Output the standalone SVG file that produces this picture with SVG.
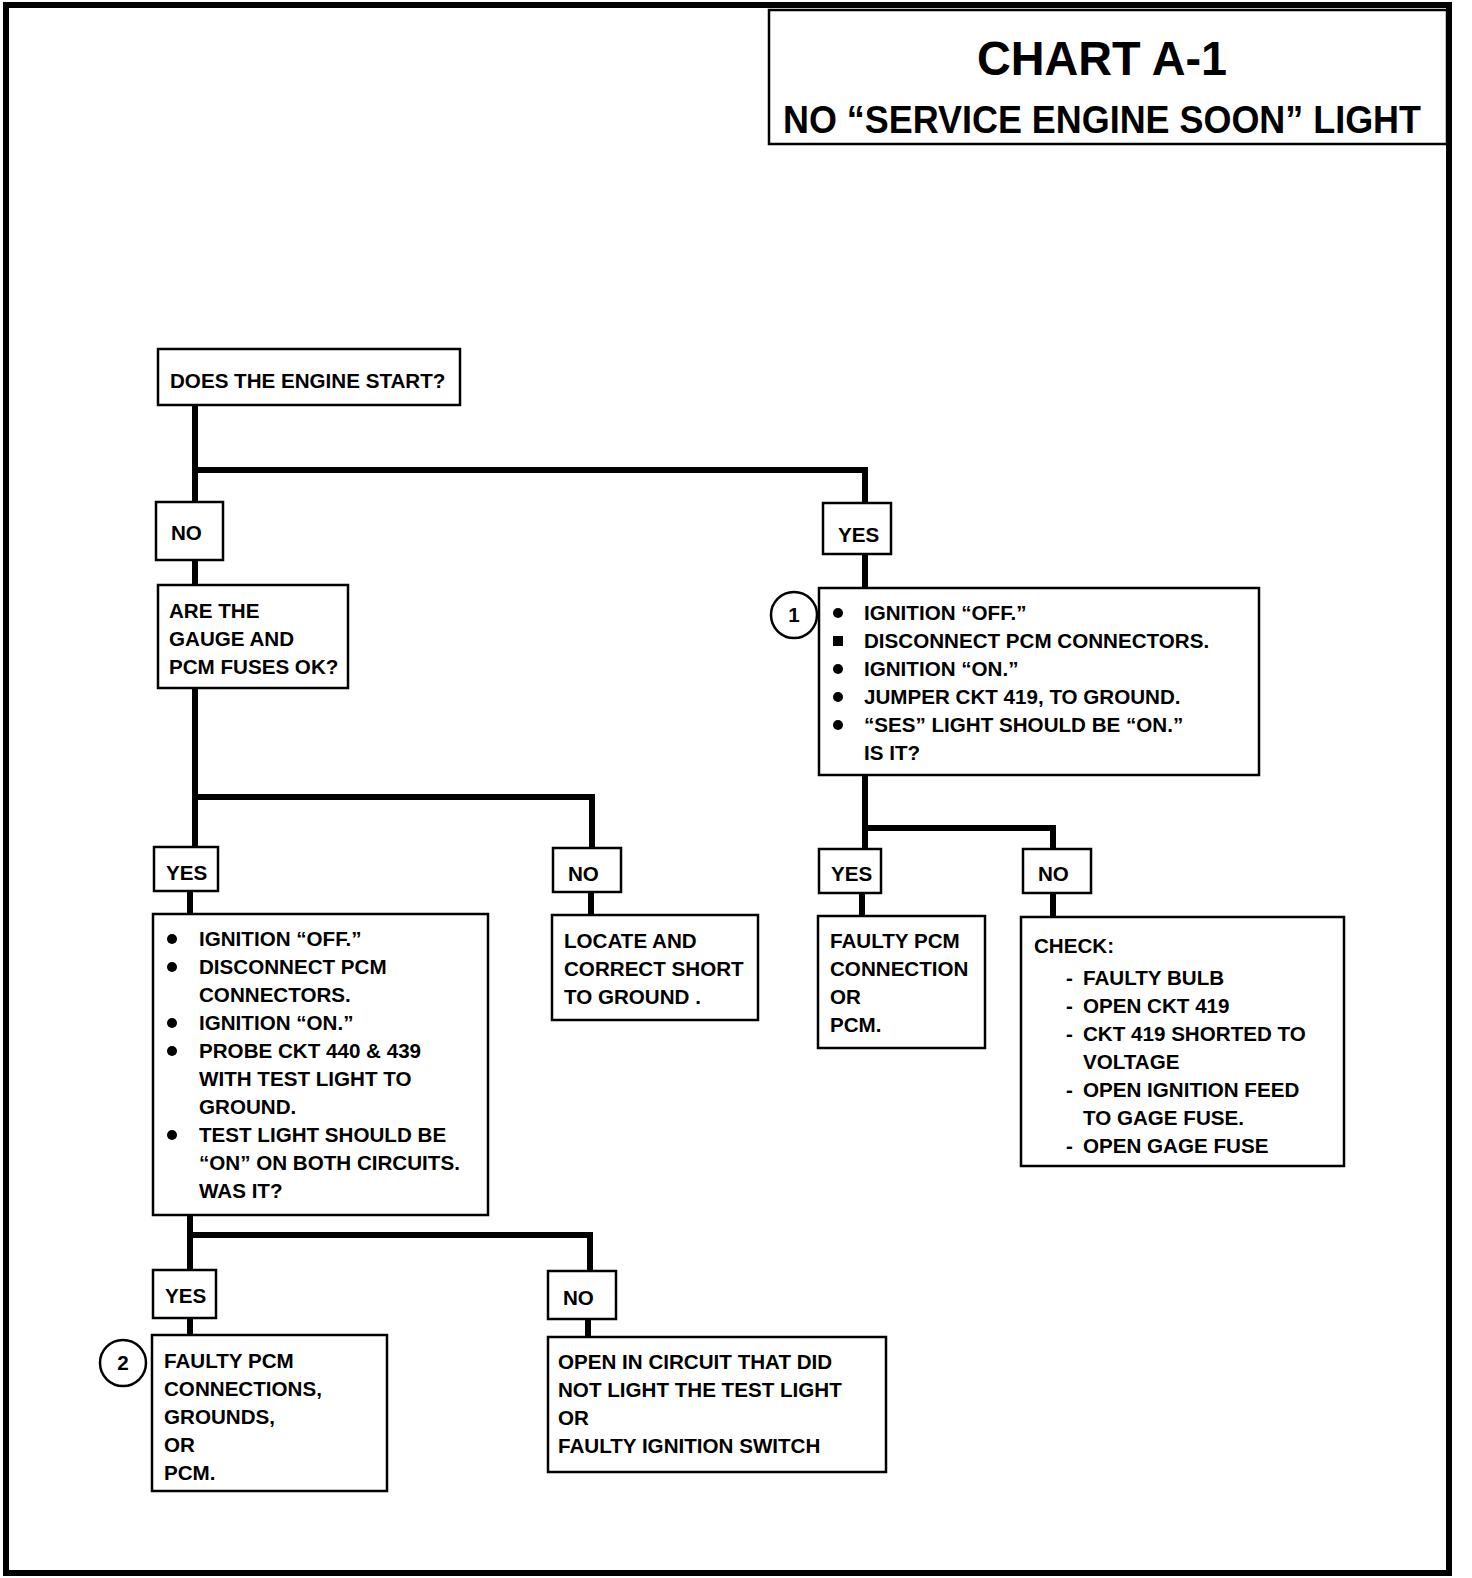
<svg xmlns="http://www.w3.org/2000/svg" width="1472" height="1578" viewBox="0 0 1472 1578">
<style>
.box{fill:#fff;stroke:#000;stroke-width:2.5}
.t{font-family:"Liberation Sans",Arial,sans-serif;font-weight:bold;font-size:20.6px;fill:#000}
.h1{font-family:"Liberation Sans",Arial,sans-serif;font-weight:bold;font-size:48px;fill:#000}
.h2{font-family:"Liberation Sans",Arial,sans-serif;font-weight:bold;font-size:38px;fill:#000}
.conn{fill:none;stroke:#000;stroke-width:6;stroke-linejoin:miter;stroke-linecap:butt}
.frame{fill:none;stroke:#000;stroke-width:6}
.bul{fill:#000}
.ring{fill:#fff;stroke:#000;stroke-width:2.5}
</style>
<rect width="1472" height="1578" fill="#fff"/>
<rect class="frame" x="6" y="5" width="1443" height="1568"/>
<g id="title">
<rect class="box" x="769" y="10" width="678" height="134"/>
<text class="h1" x="1102" y="75" text-anchor="middle" textLength="250" lengthAdjust="spacingAndGlyphs">CHART A-1</text>
<text class="h2" x="1102" y="133" text-anchor="middle" textLength="638" lengthAdjust="spacingAndGlyphs">NO “SERVICE ENGINE SOON” LIGHT</text>
</g>
<g id="connectors">
<path class="conn" d="M195 405 V502 M195 470 H865 V503"/>
<path class="conn" d="M195 560 V585"/>
<path class="conn" d="M195 688 V848 M195 797 H592 V848"/>
<path class="conn" d="M190 891 V914"/>
<path class="conn" d="M591 892 V915"/>
<path class="conn" d="M865 554 V588"/>
<path class="conn" d="M865 775 V849 M865 828 H1053 V849"/>
<path class="conn" d="M862 893 V916"/>
<path class="conn" d="M1053 893 V917"/>
<path class="conn" d="M190 1215 V1271 M190 1235 H590 V1271"/>
<path class="conn" d="M190 1318 V1335"/>
<path class="conn" d="M588 1319 V1337"/>
</g>
<g id="n_start">
<rect class="box" x="158" y="349" width="302" height="56"/>
<text class="t" x="170" y="388">DOES THE ENGINE START?</text>
</g>
<g id="n_no1">
<rect class="box" x="156" y="502" width="67" height="58"/>
<text class="t" x="171" y="540">NO</text>
</g>
<g id="n_fuses">
<rect class="box" x="158" y="585" width="190" height="103"/>
<text class="t" x="169" y="618">ARE THE</text>
<text class="t" x="169" y="646">GAUGE AND</text>
<text class="t" x="169" y="674">PCM FUSES OK?</text>
</g>
<g id="n_yes_fuses">
<rect class="box" x="154" y="847" width="64" height="44"/>
<text class="t" x="166" y="880">YES</text>
</g>
<g id="n_probe">
<rect class="box" x="153" y="914" width="335" height="301"/>
<circle class="bul" cx="172" cy="939" r="5"/>
<circle class="bul" cx="172" cy="967" r="5"/>
<circle class="bul" cx="172" cy="1023" r="5"/>
<circle class="bul" cx="172" cy="1051" r="5"/>
<circle class="bul" cx="172" cy="1135" r="5"/>
<text class="t" x="199" y="946">IGNITION “OFF.”</text>
<text class="t" x="199" y="974">DISCONNECT PCM</text>
<text class="t" x="199" y="1002">CONNECTORS.</text>
<text class="t" x="199" y="1030">IGNITION “ON.”</text>
<text class="t" x="199" y="1058">PROBE CKT 440 &amp; 439</text>
<text class="t" x="199" y="1086">WITH TEST LIGHT TO</text>
<text class="t" x="199" y="1114">GROUND.</text>
<text class="t" x="199" y="1142">TEST LIGHT  SHOULD BE</text>
<text class="t" x="199" y="1170">“ON” ON BOTH CIRCUITS.</text>
<text class="t" x="199" y="1198">WAS IT?</text>
</g>
<g id="n_no_fuses">
<rect class="box" x="553" y="848" width="68" height="44"/>
<text class="t" x="568" y="881">NO</text>
</g>
<g id="n_short">
<rect class="box" x="552" y="915" width="206" height="105"/>
<text class="t" x="564" y="948">LOCATE  AND</text>
<text class="t" x="564" y="976">CORRECT SHORT</text>
<text class="t" x="564" y="1004">TO GROUND .</text>
</g>
<g id="n_yes1">
<rect class="box" x="823" y="503" width="68" height="51"/>
<text class="t" x="838" y="542">YES</text>
</g>
<g id="n_jumper">
<rect class="box" x="819" y="588" width="440" height="187"/>
<circle class="bul" cx="838" cy="613" r="5"/>
<rect class="bul" x="833" y="636" width="10" height="10"/>
<circle class="bul" cx="838" cy="669" r="5"/>
<circle class="bul" cx="838" cy="697" r="5"/>
<circle class="bul" cx="838" cy="725" r="5"/>
<text class="t" x="864" y="620">IGNITION “OFF.”</text>
<text class="t" x="864" y="648">DISCONNECT PCM CONNECTORS.</text>
<text class="t" x="864" y="676">IGNITION “ON.”</text>
<text class="t" x="864" y="704">JUMPER CKT 419,  TO GROUND.</text>
<text class="t" x="864" y="732">“SES” LIGHT  SHOULD BE “ON.”</text>
<text class="t" x="864" y="760">IS IT?</text>
</g>
<g id="c1">
<circle class="ring" cx="794" cy="615" r="23"/>
<text class="t" x="794" y="622" text-anchor="middle">1</text>
</g>
<g id="n_yes_ses">
<rect class="box" x="819" y="849" width="62" height="44"/>
<text class="t" x="831" y="881">YES</text>
</g>
<g id="n_faulty1">
<rect class="box" x="818" y="916" width="167" height="132"/>
<text class="t" x="830" y="948">FAULTY PCM</text>
<text class="t" x="830" y="976">CONNECTION</text>
<text class="t" x="830" y="1004">OR</text>
<text class="t" x="830" y="1032">PCM.</text>
</g>
<g id="n_no_ses">
<rect class="box" x="1023" y="849" width="68" height="44"/>
<text class="t" x="1038" y="881">NO</text>
</g>
<g id="n_check">
<rect class="box" x="1021" y="917" width="323" height="249"/>
<text class="t" x="1034" y="953">CHECK:</text>
<text class="t" x="1066" y="985">-</text>
<text class="t" x="1083" y="985">FAULTY BULB</text>
<text class="t" x="1066" y="1013">-</text>
<text class="t" x="1083" y="1013">OPEN CKT 419</text>
<text class="t" x="1066" y="1041">-</text>
<text class="t" x="1083" y="1041">CKT 419 SHORTED TO</text>
<text class="t" x="1083" y="1069">VOLTAGE</text>
<text class="t" x="1066" y="1097">-</text>
<text class="t" x="1083" y="1097">OPEN IGNITION FEED</text>
<text class="t" x="1083" y="1125">TO GAGE FUSE.</text>
<text class="t" x="1066" y="1153">-</text>
<text class="t" x="1083" y="1153">OPEN GAGE FUSE</text>
</g>
<g id="n_yes_probe">
<rect class="box" x="153" y="1270" width="63" height="48"/>
<text class="t" x="165" y="1303">YES</text>
</g>
<g id="n_faulty2">
<rect class="box" x="152" y="1335" width="235" height="156"/>
<text class="t" x="164" y="1368">FAULTY PCM</text>
<text class="t" x="164" y="1396">CONNECTIONS,</text>
<text class="t" x="164" y="1424">GROUNDS,</text>
<text class="t" x="164" y="1452">OR</text>
<text class="t" x="164" y="1480">PCM.</text>
</g>
<g id="c2">
<circle class="ring" cx="123" cy="1363" r="23"/>
<text class="t" x="123" y="1370" text-anchor="middle">2</text>
</g>
<g id="n_no_probe">
<rect class="box" x="548" y="1271" width="68" height="48"/>
<text class="t" x="563" y="1305">NO</text>
</g>
<g id="n_open">
<rect class="box" x="548" y="1337" width="338" height="135"/>
<text class="t" x="558" y="1369">OPEN IN CIRCUIT THAT DID</text>
<text class="t" x="558" y="1397">NOT LIGHT THE TEST LIGHT</text>
<text class="t" x="558" y="1425">OR</text>
<text class="t" x="558" y="1453">FAULTY IGNITION SWITCH</text>
</g>
</svg>
